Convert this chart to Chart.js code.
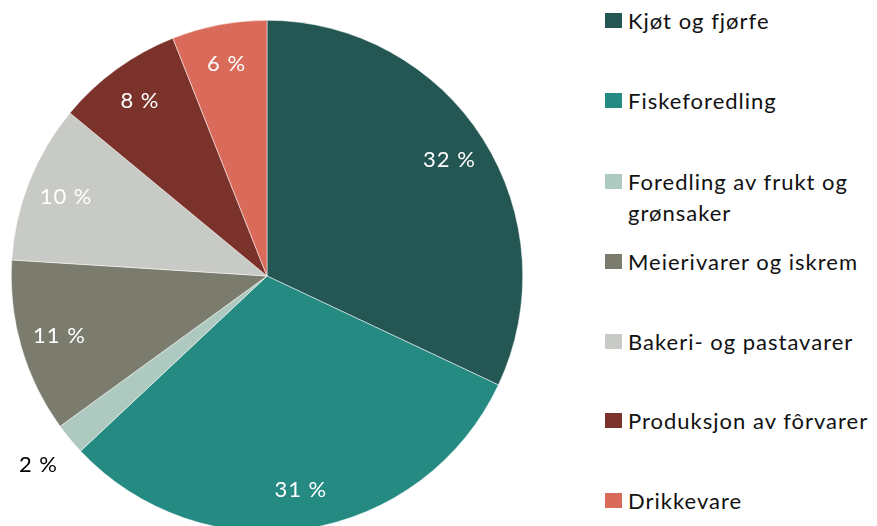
<!DOCTYPE html>
<html lang="no">
<head>
<meta charset="UTF-8">
<title>Andel etter næring</title>
<script src="https://cdn.jsdelivr.net/npm/chart.js"></script>
<style>
  html, body { margin: 0; padding: 0; background: #fff; overflow: hidden; }
  body { width: 877px; height: 526px; position: relative; font-family: Lato, "Open Sans", sans-serif; }
  #pieWrap { position: absolute; left: 11px; top: 20px; width: 512px; height: 512px; }
  #legend { position: absolute; left: 605px; top: 0; margin: 0; padding: 0; list-style: none; }
  #legend li { position: absolute; left: 0; width: 272px; font-size: 22px; line-height: 31px; color: #111; letter-spacing: 1px; }
  #legend .box { position: absolute; left: 0; top: 8px; width: 17px; height: 15px; }
  #legend .txt { position: absolute; left: 23px; top: 0; white-space: nowrap; }
</style>
</head>
<body>
<div id="pieWrap"><canvas id="pie"></canvas></div>
<ul id="legend"></ul>

<script>
// Andel (%) per næring
const categories = [
  'Kjøt og fjørfe',
  'Fiskeforedling',
  'Foredling av frukt og\ngrønsaker',
  'Meierivarer og iskrem',
  'Bakeri- og pastavarer',
  'Produksjon av fôrvarer',
  'Drikkevare'
];
const shares = [32, 31, 2, 11, 10, 8, 6];
const sliceColors = ['#245654', '#248A82', '#ADC9C0', '#7B7C6E', '#C8CAC5', '#7A322A', '#DA6B5A'];
const legendTops = [5, 85, 166, 246, 326, 405, 485];

// legend on the right
const legendEl = document.getElementById('legend');
categories.forEach((name, i) => {
  const li = document.createElement('li');
  li.style.top = legendTops[i] + 'px';
  const box = document.createElement('span');
  box.className = 'box';
  box.style.background = sliceColors[i];
  const txt = document.createElement('span');
  txt.className = 'txt';
  txt.innerHTML = name.replace('\n', '<br>');
  li.appendChild(box);
  li.appendChild(txt);
  legendEl.appendChild(li);
});

// percent labels: inside the slice in white, small slices outside in black
const sliceLabels = {
  id: 'sliceLabels',
  afterDatasetsDraw(chart) {
    const ctx = chart.ctx;
    const meta = chart.getDatasetMeta(0);
    ctx.save();
    ctx.font = '22px Lato, "Open Sans", sans-serif';
    ctx.letterSpacing = '1px';
    ctx.textAlign = 'center';
    ctx.textBaseline = 'middle';
    meta.data.forEach((arc, i) => {
      const p = arc.getProps(['x', 'y', 'startAngle', 'endAngle', 'outerRadius'], true);
      const mid = (p.startAngle + p.endAngle) / 2;
      const small = shares[i] < 4;
      const r = small ? p.outerRadius * 1.16 : p.outerRadius * 0.845;
      ctx.fillStyle = small ? '#000' : '#fff';
      ctx.fillText(shares[i] + ' %', p.x + Math.cos(mid) * r, p.y + Math.sin(mid) * r);
    });
    ctx.restore();
  }
};

new Chart(document.getElementById('pie'), {
  type: 'pie',
  data: {
    labels: categories,
    datasets: [{
      data: shares,
      backgroundColor: sliceColors,
      borderColor: '#ffffff',
      borderWidth: 0.5
    }]
  },
  options: {
    responsive: true,
    maintainAspectRatio: false,
    animation: false,
    layout: { padding: 0 },
    plugins: {
      legend: { display: false },
      tooltip: { enabled: false }
    }
  },
  plugins: [sliceLabels]
});
</script>
</body>
</html>
